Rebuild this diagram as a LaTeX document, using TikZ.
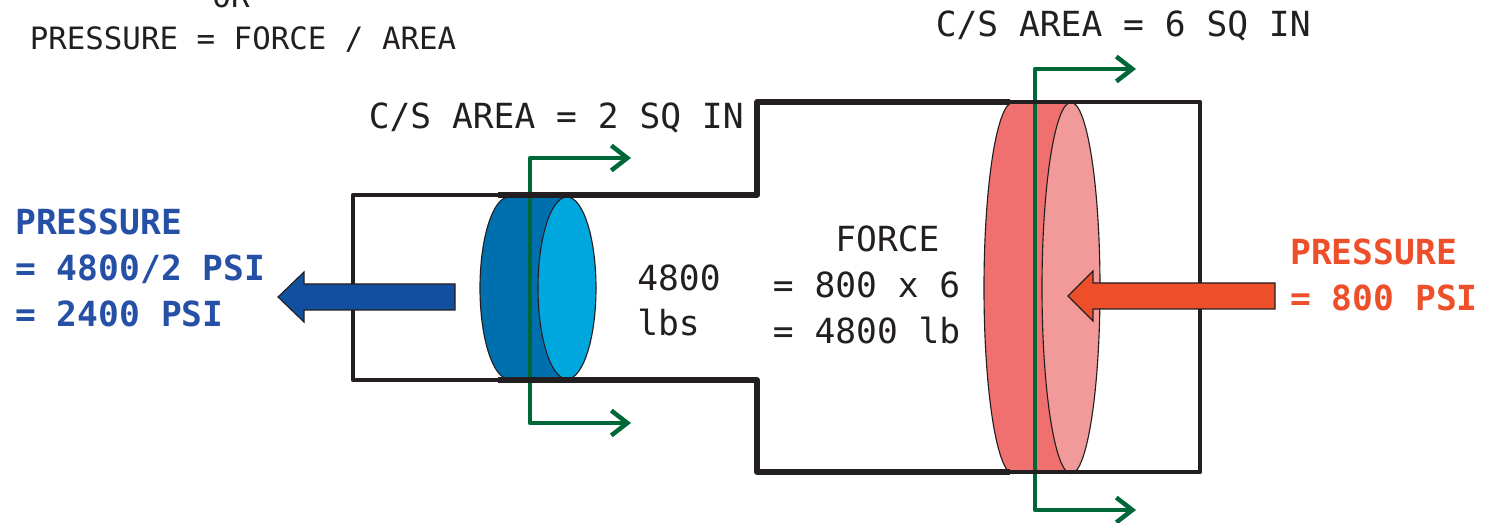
\documentclass[tikz,border=0pt]{standalone}
\usepackage{fontspec}
\setmainfont{DejaVu Sans Mono}
\usetikzlibrary{shapes,arrows.meta}
\definecolor{inkblack}{HTML}{231F20}
\definecolor{cutgreen}{HTML}{006838}
\definecolor{pushblue}{HTML}{114F9F}
\definecolor{textblue}{HTML}{2550A5}
\definecolor{pushred}{HTML}{EE4F2B}
\definecolor{smallbody}{HTML}{006FAE}
\definecolor{smallface}{HTML}{00A6DE}
\definecolor{bigbody}{HTML}{F07070}
\definecolor{bigface}{HTML}{F29A9A}
\tikzstyle{label} = [font=\fontsize{24.6}{32}\selectfont, text=inkblack, align=left, inner sep=0pt]
\tikzstyle{note} = [label, font=\fontsize{21.9}{28}\selectfont]
\tikzstyle{face} = [ellipse, draw=inkblack, line width=0.8pt, inner sep=0pt, minimum width=1.45cm]
\tikzstyle{wall} = [draw=inkblack, line width=3.1pt, line join=round]
\tikzstyle{thickwall} = [draw=inkblack, line width=4pt, line join=round]
\tikzstyle{cut} = [draw=cutgreen, line width=3.2pt, line join=round, -{Straight Barb[length=0.4cm, width=0.62cm, line width=3.2pt]}]
\tikzstyle{push} = [draw=inkblack, line width=0.8pt, line join=miter]

\begin{document}
\begin{tikzpicture}[x=0.025cm, y=-0.025cm]
   \useasboundingbox (0,0) rectangle (1486,523);
   % Place pistons
    \node [face, fill=smallbody, minimum height=4.55cm] (smallback) at (509,288) {};
    \node [face, fill=bigbody, minimum height=9.28cm] (bigback) at (1013,288) {};
    \fill [smallbody] (smallback.north) rectangle (567,379);
    \fill [bigbody] (bigback.north) rectangle (1071,472);
    \node [face, fill=smallface, minimum height=4.55cm] (smallfront) at (567,288) {};
    \node [face, fill=bigface, minimum height=9.28cm] (bigfront) at (1071,288) {};
   % Draw section lines
    \coordinate (smallup) at (631,158);
    \coordinate (smalldown) at (631,423);
    \coordinate (bigup) at (1136,69);
    \coordinate (bigdown) at (1136,510);
    \path [cut] (530,380) |- (smallup);
    \path [cut] (530,195) |- (smalldown);
    \path [cut] (1035,472) |- (bigup);
    \path [cut] (1035,102) |- (bigdown);
   % Draw cylinder
    \path [wall] (498,195) -- (353,195) -- (353,380) -- (498,380);
    \path [thickwall] (1010,102) -- (757,102) -- (757,195) -- (498,195);
    \path [thickwall] (498,380) -- (757,380) -- (757,472) -- (1010,472);
    \path [wall] (1010,102) -- (1200,102) -- (1200,472) -- (1010,472);
   % Draw pressure arrows
    \draw [push, fill=pushblue] (455,284) -- (304,284) -- (304,272) -- (278,297)
      -- (304,322) -- (304,310) -- (455,310) -- cycle;
    \draw [push, fill=pushred] (1275,283) -- (1093,283) -- (1093,271) -- (1068,296)
      -- (1093,321) -- (1093,309) -- (1275,309) -- cycle;
   % Place labels
    \node [note, anchor=base] (either) at (231,8) {OR};
    \node [note, anchor=base west] (formula) at (29.5,50) {PRESSURE = FORCE / AREA};
    \node [label, anchor=base west] (smallarea) at (368.5,129) {C/S AREA = 2 SQ IN};
    \node [label, anchor=base west] (bigarea) at (935.5,37) {C/S AREA = 6 SQ IN};
    \node [label, anchor=north west, text=textblue, font=\fontsize{24.6}{32.4}\selectfont\bfseries] (outpressure) at (15,209) {PRESSURE\\= 4800/2 PSI\\= 2400 PSI};
    \node [label, anchor=north west, text=pushred, font=\fontsize{24.6}{32.4}\selectfont\bfseries] (inpressure) at (1290,239) {PRESSURE\\= 800 PSI};
    \node [label, anchor=north west] (load) at (637,265) {4800\\lbs};
    \node [label, anchor=north west, font=\fontsize{24.6}{32.4}\selectfont] (force) at (772.6,226) {\phantom{===}FORCE\\= 800 x 6\\= 4800 lb};
  \end{tikzpicture}
\end{document}
